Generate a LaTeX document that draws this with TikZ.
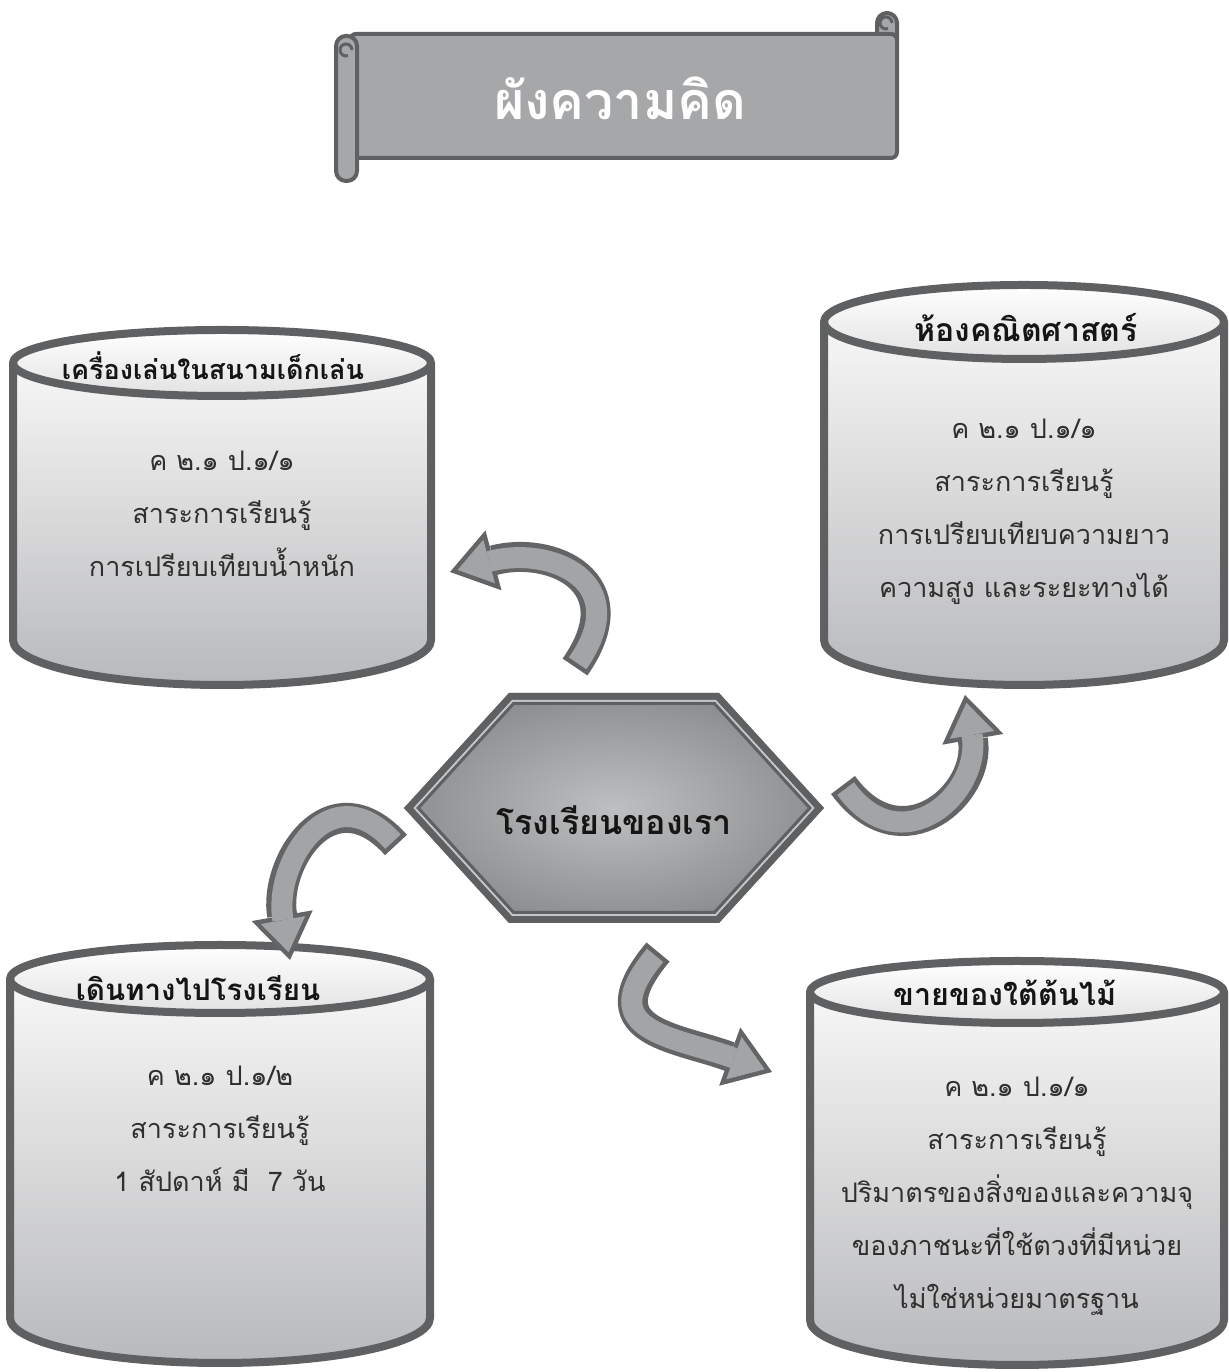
\documentclass[tikz,border=0pt]{standalone}
\usepackage{fontspec}
\newfontfamily\thaifont[Script=Thai]{Loma}
\usetikzlibrary{arrows.meta, calc}
\definecolor{ink}{HTML}{151515}
\definecolor{note}{HTML}{2F2F2F}
\definecolor{rim}{HTML}{5F6062}
\definecolor{drumtop}{HTML}{F7F7F7}
\definecolor{drumbot}{HTML}{B8B9BB}
\definecolor{lidbot}{HTML}{E2E2E3}
\definecolor{scroll}{HTML}{A6A7A9}
\definecolor{hubin}{HTML}{BEBFC1}
\definecolor{hubout}{HTML}{8D8E90}
\definecolor{hubgap}{HTML}{C6C7C9}
\definecolor{arrfill}{HTML}{A3A4A6}
\definecolor{arrline}{HTML}{636466}
\tikzset{
  every node/.style = {font=\thaifont, text=ink},
  drumbody/.style   = {top color=drumtop, bottom color=drumbot},
  drumlid/.style    = {top color=white, bottom color=lidbot},
  drumrim/.style    = {draw=rim, line width=8pt, line join=round},
  drumhead/.style   = {font=\thaifont\bfseries\fontsize{#1}{36}\selectfont, text=ink},
  drumhead/.default = 30,
  drumtext/.style   = {font=\thaifont\fontsize{27}{53}\selectfont, text=note, align=center},
  hubband/.style    = {draw=rim, line width=7pt},
  hubgapline/.style = {draw=hubgap, line width=2pt},
  hubinner/.style   = {draw=rim, line width=3pt},
  hubtext/.style    = {font=\thaifont\bfseries\fontsize{34}{40}\selectfont, text=ink},
  scrollbox/.style  = {draw=rim, fill=scroll, line width=4pt, line join=round},
  scrollcurl/.style = {draw=rim, line width=3pt},
  scrolltitle/.style= {font=\thaifont\bfseries\fontsize{52}{60}\selectfont, text=white},
  bendout/.style    = {draw=arrline, line width=30pt,
                       -{Triangle[length=45pt, width=62pt, line width=0pt]}},
  bendin/.style     = {draw=arrfill, line width=21pt, shorten <=4.5pt, shorten >=7.9pt,
                       -{Triangle[length=32.6pt, width=45pt, line width=0pt]}},
}
\begin{document}
\begin{tikzpicture}[x=1pt, y=1pt]
\useasboundingbox (0,0) rectangle (1228,1372);

\draw[scrollbox, rounded corners=10pt] (877,1322) rectangle (897,1359);
\draw[scrollbox, rounded corners=6pt] (350,1214) rectangle (897,1338);
\draw[scrollbox, rounded corners=10pt] (336,1191) rectangle (357,1336);
\draw[scrollcurl] (352,1322) arc[start angle=0, end angle=290, radius=6];
\draw[scrollcurl] (892,1349) arc[start angle=0, end angle=290, radius=6];
\node[scrolltitle] (maptitle) at (620,1274) {ผังความคิด};

\shade[drumbody] (13,1009) -- (13,732) arc[start angle=180, end angle=360, x radius=209, y radius=45] -- (431,1009) -- cycle;
\shade[drumlid] (222,1009) ellipse[x radius=209, y radius=33];
\draw[drumrim] (13,1009) -- (13,732) arc[start angle=180, end angle=360, x radius=209, y radius=45] -- (431,1009);
\draw[drumrim] (222,1009) ellipse[x radius=209, y radius=33];
\node[drumhead=27] (playname) at (213,1006) {เครื่องเล่นในสนามเด็กเล่น};
\node[drumtext] (playnote) at (222,858) {ค ๒.๑ ป.๑/๑\\สาระการเรียนรู้\\การเปรียบเทียบน้ำหนัก};

\shade[drumbody] (824,1050) -- (824,732) arc[start angle=180, end angle=360, x radius=200, y radius=45] -- (1224,1050) -- cycle;
\shade[drumlid] (1024,1050) ellipse[x radius=200, y radius=37];
\draw[drumrim] (824,1050) -- (824,732) arc[start angle=180, end angle=360, x radius=200, y radius=45] -- (1224,1050);
\draw[drumrim] (1024,1050) ellipse[x radius=200, y radius=37];
\node[drumhead=32] (mathname) at (1026,1044) {ห้องคณิตศาสตร์};
\node[drumtext] (mathnote) at (1024,860) {ค ๒.๑ ป.๑/๑\\สาระการเรียนรู้\\การเปรียบเทียบความยาว\\ความสูง และระยะทางได้};

\shade[drumbody] (10,393) -- (10,54) arc[start angle=180, end angle=360, x radius=210, y radius=45] -- (430,393) -- cycle;
\shade[drumlid] (220,393) ellipse[x radius=210, y radius=34];
\draw[drumrim] (10,393) -- (10,54) arc[start angle=180, end angle=360, x radius=210, y radius=45] -- (430,393);
\draw[drumrim] (220,393) ellipse[x radius=210, y radius=34];
\node[drumhead=29.5] (walkname) at (198,384) {เดินทางไปโรงเรียน};
\node[drumtext] (walknote) at (220,243) {ค ๒.๑ ป.๑/๒\\สาระการเรียนรู้\\1 สัปดาห์ มี~~7 วัน};

\shade[drumbody] (810,380) -- (810,52) arc[start angle=180, end angle=360, x radius=207, y radius=45] -- (1224,380) -- cycle;
\shade[drumlid] (1017,380) ellipse[x radius=207, y radius=31];
\draw[drumrim] (810,380) -- (810,52) arc[start angle=180, end angle=360, x radius=207, y radius=45] -- (1224,380);
\draw[drumrim] (1017,380) ellipse[x radius=207, y radius=31];
\node[drumhead=30.5] (shopname) at (1005,379) {ขายของใต้ต้นไม้};
\node[drumtext] (shopnote) at (1017,176) {ค ๒.๑ ป.๑/๑\\สาระการเรียนรู้\\ปริมาตรของสิ่งของและความจุ\\ของภาชนะที่ใช้ตวงที่มีหน่วย\\ไม่ใช่หน่วยมาตรฐาน};

\coordinate (hub) at (614,564);
\shade[inner color=hubin, outer color=hubout, shift={(hub)}] (-210,0) -- (-105,115) -- (105,115) -- (210,0) -- (105,-115) -- (-105,-115) -- cycle;
\draw[hubband, shift={(hub)}] (-205.3,0) -- (-103.5,111.5) -- (103.5,111.5) -- (205.3,0) -- (103.5,-111.5) -- (-103.5,-111.5) -- cycle;
\draw[hubgapline, shift={(hub)}] (-199.2,0) -- (-101.5,107) -- (101.5,107) -- (199.2,0) -- (101.5,-107) -- (-101.5,-107) -- cycle;
\draw[hubinner, shift={(hub)}] (-195.8,0) -- (-100.4,104.5) -- (100.4,104.5) -- (195.8,0) -- (100.4,-104.5) -- (-100.4,-104.5) -- cycle;
\node[hubtext] (school) at (614,552) {โรงเรียนของเรา};

\coordinate (c1s) at (575,705);
\coordinate (c1e) at (450,800);
\coordinate (c2s) at (843,587);
\coordinate (c2e) at (965,677);
\coordinate (c3s) at (396,527);
\coordinate (c3e) at (290,412);
\coordinate (c4s) at (658,420);
\coordinate (c4e) at (772,300);

\draw[bendout] (c1s) to[out=55, in=15, looseness=1.7] (c1e);
\draw[bendin]  (c1s) to[out=55, in=15, looseness=1.7] (c1e);
\draw[bendout] (c2s) to[out=-54, in=-80, looseness=1.68] (c2e);
\draw[bendin]  (c2s) to[out=-54, in=-80, looseness=1.68] (c2e);
\draw[bendout] (c3s) to[out=132, in=100, looseness=1.6] (c3e);
\draw[bendin]  (c3s) to[out=132, in=100, looseness=1.6] (c3e);
\draw[bendout] (c4s) to[out=230, in=160, looseness=1.62] (c4e);
\draw[bendin]  (c4s) to[out=230, in=160, looseness=1.62] (c4e);
\end{tikzpicture}
\end{document}
